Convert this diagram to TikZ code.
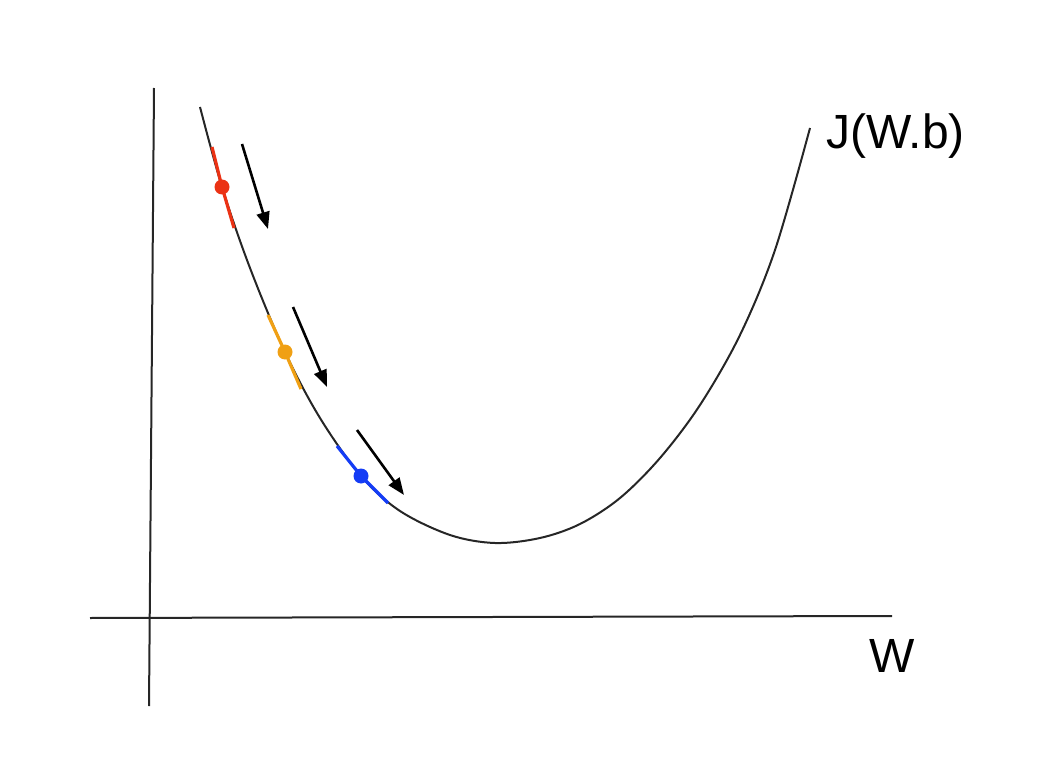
\documentclass[tikz,border=0pt]{standalone}
\usepackage{fontspec}
\setmainfont{Liberation Sans}
\usetikzlibrary{arrows.meta}
\begin{document}
\begin{tikzpicture}[x=1pt,y=-1pt,
  axis/.style={line width=2pt,draw=black!85},
  curve/.style={line width=2pt,draw=black!85},
  seg/.style={line width=3.2pt},
  dot/.style={circle,inner sep=0pt,minimum size=15pt},
  grad/.style={line width=2.6pt,-{Triangle[length=17pt,width=13pt]}},
  lbl/.style={inner sep=0pt,font=\fontsize{48}{54}\selectfont}]
\useasboundingbox (0,0) rectangle (1063,778);
% axes
\draw[axis] (154,88) -- (149,706);
\draw[axis] (90,618) -- (892,616);
% cost curve
\draw[curve] plot[smooth,tension=0.55] coordinates {(200,107) (222,187) (250,268) (285,352) (320,418) (361,476) (400,511) (450,535) (495,543) (540,538) (580,524) (620,498) (660,458) (700,405) (740,335) (775,250) (810,128)};
% coloured segments
\draw[seg,draw={rgb,255:red,235;green,50;blue,20}] (212,147) -- (222,187) -- (234,228);
\draw[seg,draw={rgb,255:red,240;green,160;blue,20}] (268,315) -- (285,352) -- (301,389);
\draw[seg,draw={rgb,255:red,20;green,60;blue,245}] (337,446) -- (361,476) -- (388,503);
\node[dot,fill={rgb,255:red,235;green,50;blue,20}] (p1) at (222,187) {};
\node[dot,fill={rgb,255:red,240;green,160;blue,20}] (p2) at (285,352) {};
\node[dot,fill={rgb,255:red,20;green,60;blue,245}] (p3) at (361,476) {};
% gradient arrows
\coordinate (a1s) at (242,144); \coordinate (a1e) at (268,229);
\coordinate (a2s) at (293,307); \coordinate (a2e) at (327,387);
\coordinate (a3s) at (357,430); \coordinate (a3e) at (404,495);
\draw[grad] (a1s) -- (a1e);
\draw[grad] (a2s) -- (a2e);
\draw[grad] (a3s) -- (a3e);
% labels
\node[lbl,anchor=west] (J) at (826,136) {J(W.b)};
\node[lbl,anchor=center] (W) at (892,656) {W};
\end{tikzpicture}
\end{document}
